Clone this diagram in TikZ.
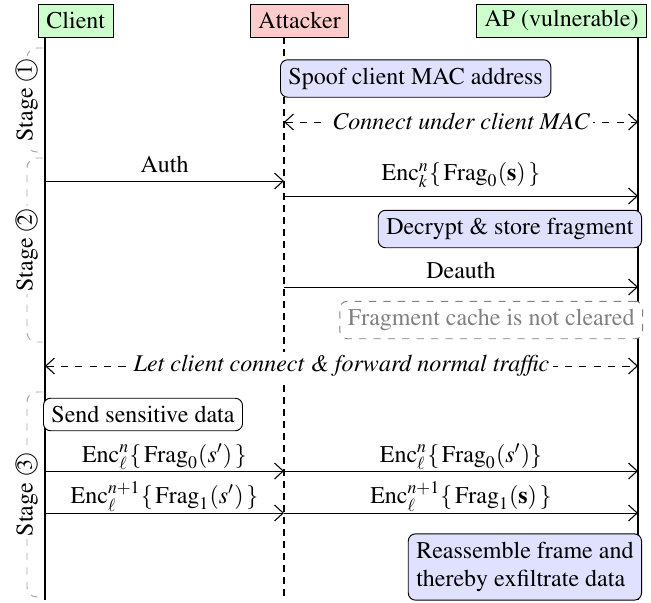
\documentclass[tikz,border=0pt]{standalone}
\usepackage[T1]{fontenc}
\usepackage{textcomp}
\usepackage{mathptmx}
\usepackage[no-math]{fontspec}
\newcommand\tnr{\fontencoding{T1}\fontfamily{ptm}\selectfont}
\newcommand\stg[1]{\textcircled{\small #1}}
\usetikzlibrary{arrows.meta}
\begin{document}
\begin{tikzpicture}[x=0.41667pt, y=-0.41667pt,
 every node/.style={font=\tnr},
 hdr/.style={draw, inner ysep=2pt, minimum height=13.75pt},
 act/.style={draw, rounded corners=3pt, fill=blue!12},
 note/.style={draw, rounded corners=3pt, fill=white},
 gnote/.style={draw=gray, dashed, rounded corners=3pt, text=gray, fill=white},
 msg/.style={-{Straight Barb[length=3.6pt,width=6.6pt,line width=0.45pt]}},
 dmsg/.style={{Straight Barb[length=3.6pt,width=6.6pt,line width=0.45pt]}-{Straight Barb[length=3.6pt,width=6.6pt,line width=0.45pt]}, dashed},
 lbl/.style={above},
 lblt/.style={above, inner ysep=0.6pt},
 ilbl/.style={fill=white, font=\tnr\itshape, inner sep=1.5pt},
 life/.style={line width=0.45pt},
 dlife/.style={line width=0.45pt, dash pattern=on 3pt off 2pt},
 bracket/.style={draw=gray!70, dashed, rounded corners=4pt},
 stagelbl/.style={rotate=90, fill=white, inner sep=1pt}]
\useasboundingbox (0,0) rectangle (651,602);

% headers
\node[hdr, fill=green!20, anchor=west] (client) at (38,20.5) {Client};
\node[hdr, fill=red!20, anchor=west] (attacker) at (250,20.5) {Attacker};
\node[hdr, fill=green!20, anchor=east] (ap) at (647,20.5) {AP (vulnerable)};

% lifelines
\coordinate (cT) at (45,37);  \coordinate (cB) at (45,600);
\coordinate (aT) at (284,37); \coordinate (aB) at (284,600);
\coordinate (pT) at (638,37); \coordinate (pB) at (638,600);
\draw[life] (cT) -- (cB);
\draw[dlife] (aT) -- (aB);
\draw[life] (pT) -- (pB);

% stage brackets
\draw[bracket] (43,48) -- (27,48) -- (27,152) -- (43,152);
\node[stagelbl] (s1) at (27,100) {Stage \stg{1}};
\draw[bracket] (43,158) -- (27,158) -- (27,342) -- (43,342);
\node[stagelbl] (s2) at (27,250) {Stage \stg{2}};
\draw[bracket] (43,392) -- (27,392) -- (27,597) -- (43,597);
\node[stagelbl] (s3) at (27,494.5) {Stage \stg{3}};

% stage 1
\node[act, anchor=west] (spoof) at (280,78.5) {Spoof client MAC address};
\coordinate (a1) at (284,122); \coordinate (p1) at (638,122);
\draw[dmsg] (a1) -- node[ilbl] {Connect under client MAC} (p1);

% stage 2
\coordinate (c2) at (45,181); \coordinate (a2) at (284,181);
\draw[msg] (c2) -- node[lbl] {Auth} (a2);
\coordinate (a3) at (284,196); \coordinate (p3) at (638,196);
\draw[msg] (a3) -- node[lbl] {$\mathrm{Enc}^{n}_{k}\{\,\mathrm{Frag}_0(\mathbf{s})\,\}$} (p3);
\node[act, anchor=east] (decrypt) at (642,229) {Decrypt \& store fragment};
\coordinate (a4) at (284,287); \coordinate (p4) at (638,287);
\draw[msg] (a4) -- node[lbl] {Deauth} (p4);
\node[gnote, anchor=east] (cache) at (643,320) {Fragment cache is not cleared};

% between
\coordinate (c5) at (45,366); \coordinate (p5) at (638,366);
\draw[dmsg] (c5) -- node[ilbl] {Let client connect \& forward normal traffic} (p5);

% stage 3
\node[note, anchor=west] (send) at (43,414.5) {Send sensitive data};
\coordinate (c6) at (45,471); \coordinate (a6) at (284,471); \coordinate (p6) at (638,471);
\draw[msg] (c6) -- node[lblt] {$\mathrm{Enc}^{n}_{\ell}\{\,\mathrm{Frag}_0(s')\,\}$} (a6);
\draw[msg] (a6) -- node[lblt] {$\mathrm{Enc}^{n}_{\ell}\{\,\mathrm{Frag}_0(s')\}$} (p6);
\coordinate (c7) at (45,513); \coordinate (a7) at (284,513); \coordinate (p7) at (638,513);
\draw[msg] (c7) -- node[lblt] {$\mathrm{Enc}^{n+1}_{\ell}\{\,\mathrm{Frag}_1(s')\,\}$} (a7);
\draw[msg] (a7) -- node[lblt] {$\mathrm{Enc}^{n+1}_{\ell}\{\,\mathrm{Frag}_1(\mathbf{s})\,\}$} (p7);
\node[act, anchor=east, align=left] (reass) at (642,567) {Reassemble frame and\\thereby exfiltrate data};
\end{tikzpicture}
\end{document}
